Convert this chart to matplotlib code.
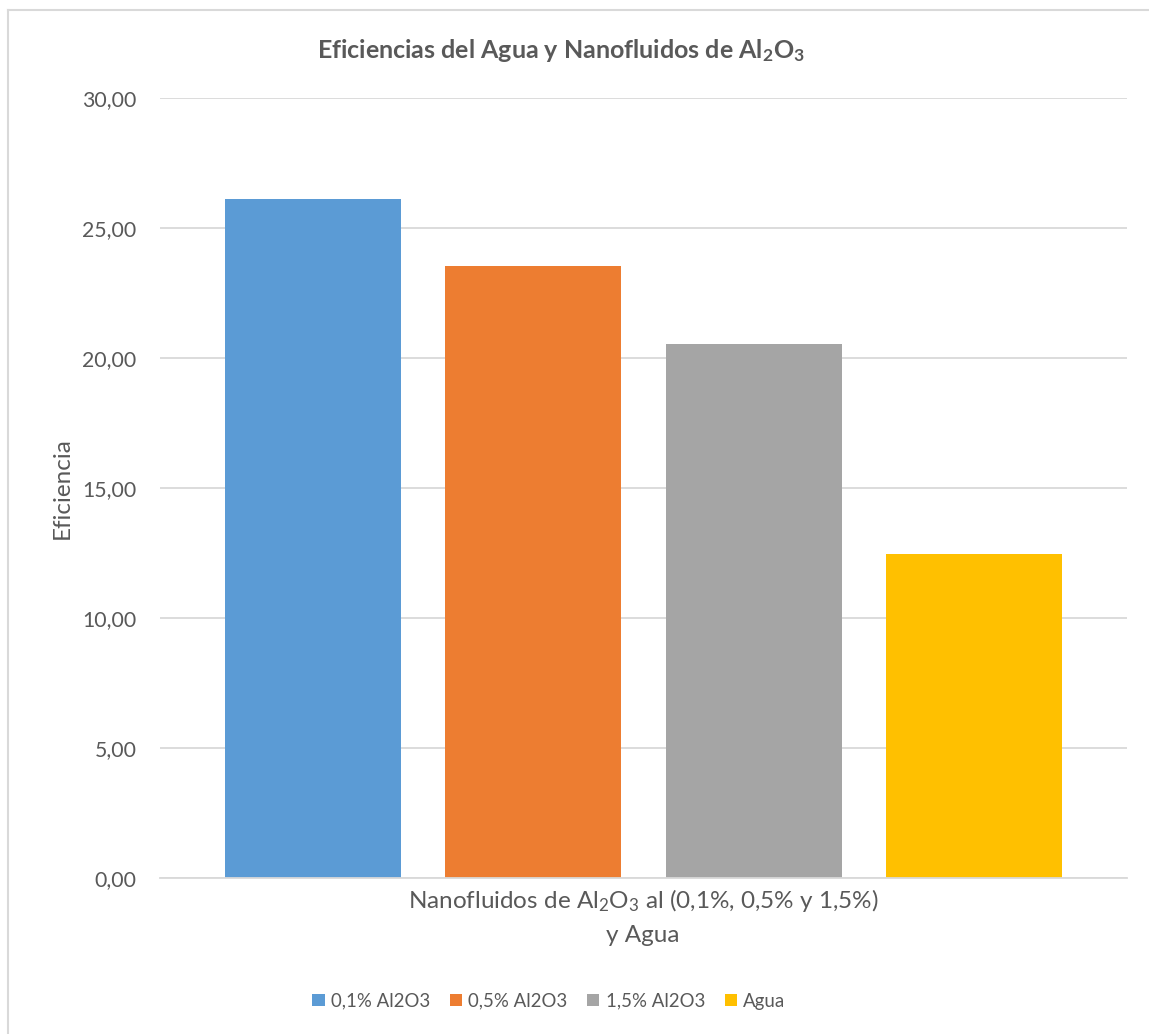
import matplotlib
matplotlib.use("Agg")
import matplotlib.pyplot as plt
from matplotlib.lines import Line2D

plt.rcParams['font.family'] = ['Lato', 'DejaVu Sans']

# Data
series = ["0,1% Al2O3", "0,5% Al2O3", "1,5% Al2O3", "Agua"]
values = [26.13, 23.55, 20.55, 12.47]
colors = ["#5B9BD5", "#ED7D31", "#A5A5A5", "#FFC000"]
yticks = [0, 5, 10, 15, 20, 25, 30]
ytick_labels = ["0,00", "5,00", "10,00", "15,00", "20,00", "25,00", "30,00"]

W, H = 1149, 1034
fig = plt.figure(figsize=(W / 100, H / 100), dpi=100)
fig.patch.set_facecolor("white")

ax = fig.add_axes([160 / W, 1 - 878.3 / H, 967 / W, 780 / H])

txt = "#595959"
grid = "#D9D9D9"

handles = []
for i, (name, v, c) in enumerate(zip(series, values, colors)):
    b = ax.bar(i, v, width=0.8, color=c, zorder=3, label=name)
    handles.append(b)

ax.set_xlim(-0.695, 3.695)
ax.set_ylim(0, 30)
ax.set_yticks(yticks)
ax.set_yticklabels(ytick_labels, fontsize=15.3, color=txt)
ax.set_xticks([])
ax.tick_params(axis="y", length=0, pad=17)
ax.yaxis.grid(True, color=grid, linewidth=1.3, zorder=0)
for s in ["left", "right", "top"]:
    ax.spines[s].set_visible(False)
ax.spines["bottom"].set_color(grid)
ax.spines["bottom"].set_linewidth(1.3)
ax.spines["bottom"].set_zorder(4)

# Titles and axis labels
fig.text(561 / W, 1 - 51 / H,
         r"Eficiencias del Agua y Nanofluidos de Al$\mathregular{_2}$O$\mathregular{_3}$",
         ha="center", va="center", fontsize=18, fontweight="bold", color=txt)
fig.text(62 / W, 1 - 488 / H, "Eficiencia", rotation=90, ha="center", va="center",
         fontsize=17.5, color=txt)
fig.text(643 / W, 1 - 901 / H,
         r"Nanofluidos de Al$\mathregular{_2}$O$\mathregular{_3}$ al (0,1%, 0,5% y 1,5%)",
         ha="center", va="center", fontsize=17.5, color=txt)
fig.text(643 / W, 1 - 935 / H, "y Agua", ha="center", va="center",
         fontsize=17.5, color=txt)

leg = fig.legend(handles=handles, labels=series, loc="center",
                 bbox_to_anchor=(549 / W, 1 - 1001 / H), ncol=4, frameon=False,
                 fontsize=13.4, handlelength=0.65, handleheight=0.65,
                 handletextpad=0.35, columnspacing=1.05, labelcolor=txt)

# Chart-area border
border = "#D9D9D9"
fig.add_artist(Line2D([7.5 / W, 7.5 / W], [0, 1 - 10 / H], transform=fig.transFigure,
                      color=border, linewidth=1.5))
fig.add_artist(Line2D([7.5 / W, 1], [1 - 10 / H, 1 - 10 / H], transform=fig.transFigure,
                      color=border, linewidth=1.5))

fig.savefig("out.png", dpi=100, facecolor="white")
